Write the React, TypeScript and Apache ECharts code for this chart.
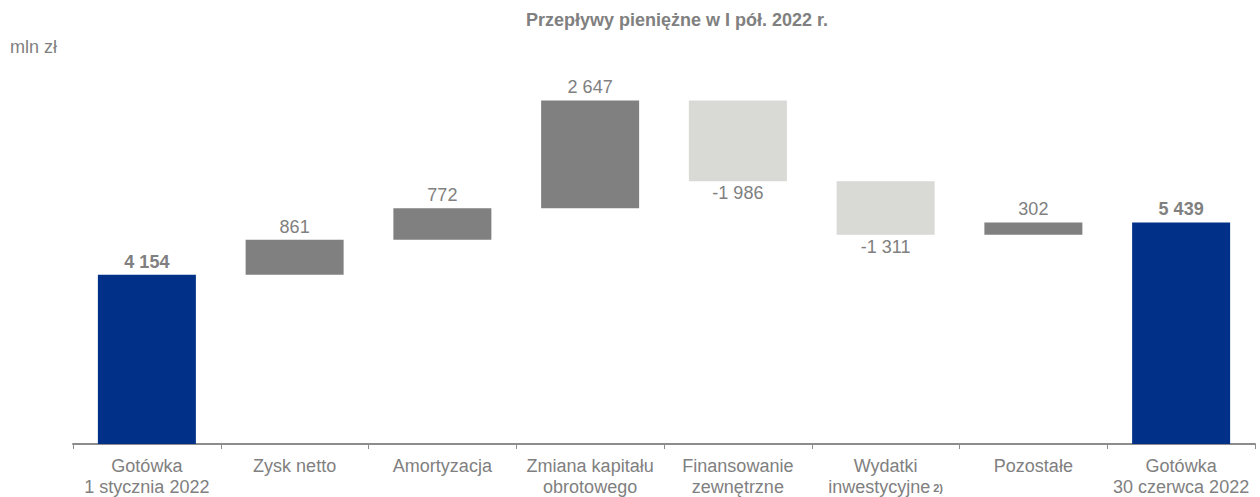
import React, { useEffect, useRef } from "react";
import * as echarts from "echarts";

const categories = [
  "Gotówka\n1 stycznia 2022",
  "Zysk netto",
  "Amortyzacja",
  "Zmiana kapitału\nobrotowego",
  "Finansowanie\nzewnętrzne",
  "Wydatki\ninwestycyjne{sup|2)}",
  "Pozostałe",
  "Gotówka\n30 czerwca 2022",
];
const values = [4154, 861, 772, 2647, -1986, -1311, 302, 5439];
const isTotal = [true, false, false, false, false, false, false, true];

const BLUE = "#003087";
const GRAY = "#808080";
const LIGHT = "#D9D9D6";
const TEXT = "#808080";
const FONT = "Liberation Sans, Arial, sans-serif";

const fmt = (v: number) => {
  const s = Math.abs(v).toString().replace(/\B(?=(\d{3})+(?!\d))/g, " ");
  return (v < 0 ? "-" : "") + s;
};

export default function App() {
  const ref = useRef<HTMLDivElement>(null);
  useEffect(() => {
    document.body.style.margin = "0";
    if (!ref.current) return;
    const chart = echarts.init(ref.current, undefined, { renderer: "svg" });
    let cum = 0;
    const base: number[] = [];
    const vis: any[] = [];
    values.forEach((v, i) => {
      if (isTotal[i]) {
        base.push(0);
        cum = v;
        vis.push({
          value: v,
          itemStyle: { color: BLUE },
          label: { show: true, position: "top", fontWeight: "bold", formatter: () => fmt(v) },
        });
      } else if (v >= 0) {
        base.push(cum);
        cum += v;
        vis.push({
          value: v,
          itemStyle: { color: GRAY },
          label: { show: true, position: "top", formatter: () => fmt(v) },
        });
      } else {
        cum += v;
        base.push(cum);
        vis.push({
          value: -v,
          itemStyle: { color: LIGHT },
          label: { show: true, position: "bottom", distance: 3, formatter: () => fmt(v) },
        });
      }
    });
    chart.setOption({
      animation: false,
      title: {
        text: "Przepływy pieniężne w I pół. 2022 r.",
        left: 672,
        textAlign: "center",
        top: 6,
        textStyle: { fontFamily: FONT, fontSize: 18, fontWeight: "bold", color: TEXT },
      },
      graphic: [
        {
          type: "text",
          left: 10,
          top: 38,
          style: { text: "mln zł", font: "18px Liberation Sans, Arial, sans-serif", fill: TEXT },
        },
      ],
      grid: { left: 73, right: 5, top: 57, bottom: 53, containLabel: false },
      xAxis: {
        type: "category",
        data: categories,
        axisLine: { lineStyle: { color: "#8C8C8C", width: 2 } },
        axisTick: { show: true, length: 5, lineStyle: { color: "#8C8C8C" } },
        axisLabel: {
          interval: 0,
          margin: 11,
          color: TEXT,
          fontFamily: FONT,
          fontSize: 18,
          lineHeight: 21,
          rich: {
            sup: {
              fontSize: 11,
              fontWeight: "bold",
              color: TEXT,
              fontFamily: FONT,
              padding: [2, 0, 0, 3],
              lineHeight: 21,
            },
          },
        },
      },
      yAxis: {
        type: "value",
        min: 0,
        max: 9500,
        show: false,
        splitLine: { show: false },
      },
      series: [
        {
          type: "bar",
          stack: "w",
          data: base,
          itemStyle: { color: "transparent" },
          barWidth: 98,
          silent: true,
        },
        {
          type: "bar",
          stack: "w",
          data: vis,
          barWidth: 98,
          label: {
            color: TEXT,
            fontFamily: FONT,
            fontSize: 18,
            distance: 4,
          },
        },
      ],
    });
    return () => chart.dispose();
  }, []);
  return <div ref={ref} style={{ width: 1260, height: 497 }} />;
}
